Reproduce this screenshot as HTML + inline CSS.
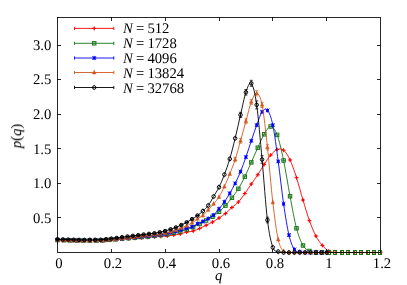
<!DOCTYPE html><html><head><meta charset="utf-8"><style>
html,body{margin:0;padding:0;background:#fff}
body{text-rendering:geometricPrecision;-webkit-font-smoothing:antialiased;width:407px;height:285px;position:relative;overflow:hidden;font-family:"Liberation Serif",serif;font-size:14.7px;color:#000}
.t{position:absolute;white-space:nowrap;line-height:14px;will-change:transform}
.yl{right:355.5px;text-align:right}
.xl{transform:translateX(-50%)}
i{font-style:italic}
</style></head><body>
<svg width="407" height="285" viewBox="0 0 407 285" style="position:absolute;left:0;top:0">
<rect width="407" height="285" fill="#fff"/>
<g>
<path d="M57.50 240.20C58.58 240.23 61.81 240.31 63.96 240.37C66.11 240.42 68.27 240.48 70.42 240.54C72.57 240.59 74.73 240.66 76.88 240.71C79.03 240.75 81.19 240.78 83.34 240.79C85.49 240.79 87.65 240.77 89.80 240.76C91.95 240.75 94.11 240.75 96.26 240.72C98.41 240.70 100.57 240.71 102.72 240.61C104.87 240.51 107.03 240.30 109.18 240.14C111.33 239.98 113.49 239.82 115.64 239.67C117.79 239.51 119.95 239.35 122.10 239.19C124.25 239.04 126.41 238.88 128.56 238.72C130.71 238.57 132.87 238.42 135.02 238.26C137.17 238.11 139.33 237.96 141.48 237.80C143.63 237.65 145.79 237.49 147.94 237.34C150.09 237.19 152.25 237.04 154.40 236.89C156.55 236.74 158.71 236.59 160.86 236.45C163.01 236.30 165.17 236.24 167.32 236.00C169.47 235.76 171.63 235.33 173.78 235.00C175.93 234.66 178.09 234.48 180.24 233.99C182.39 233.49 184.55 232.52 186.70 232.02C188.85 231.52 191.01 231.59 193.16 231.01C195.31 230.42 197.47 229.44 199.62 228.49C201.77 227.54 203.93 226.37 206.08 225.30C208.23 224.23 210.39 223.32 212.54 222.10C214.69 220.88 216.85 219.43 219.00 218.00C221.15 216.57 223.31 215.25 225.46 213.50C227.61 211.75 229.77 209.42 231.92 207.50C234.07 205.58 236.23 204.33 238.38 202.00C240.53 199.67 242.69 196.50 244.84 193.50C246.99 190.50 249.15 187.12 251.30 184.00C253.45 180.88 255.61 178.07 257.76 174.80C259.91 171.53 262.07 167.68 264.22 164.40C266.37 161.12 268.53 157.57 270.68 155.10C272.83 152.63 274.99 150.42 277.14 149.60C279.29 148.78 281.45 148.47 283.60 150.20C285.75 151.93 287.91 155.42 290.06 160.00C292.21 164.58 294.37 171.03 296.52 177.70C298.67 184.37 300.83 192.83 302.98 200.00C305.13 207.17 307.29 214.70 309.44 220.70C311.59 226.70 313.75 231.88 315.90 236.00C318.05 240.12 320.21 242.90 322.36 245.40C324.51 247.90 326.67 249.82 328.82 251.00C330.97 252.18 333.13 252.25 335.28 252.50C337.43 252.50 339.59 252.50 341.74 252.50C343.89 252.50 346.05 252.50 348.20 252.50C350.35 252.50 352.51 252.50 354.66 252.50C356.81 252.50 358.97 252.50 361.12 252.50C363.27 252.50 365.43 252.50 367.58 252.50C369.73 252.50 371.89 252.50 374.04 252.50C376.19 252.50 379.42 252.50 380.50 252.50" stroke="#ff0000" stroke-width="0.9" fill="none" stroke-linejoin="round"/>
<path d="M55.50 240.20H59.50M57.50 238.20V242.20" stroke="#ff0000" stroke-width="1.0" fill="none"/><rect x="56.60" y="239.30" width="1.8" height="1.8" fill="#ff0000" transform="rotate(45 57.50 240.20)"/>
<path d="M61.96 240.37H65.96M63.96 238.37V242.37" stroke="#ff0000" stroke-width="1.0" fill="none"/><rect x="63.06" y="239.47" width="1.8" height="1.8" fill="#ff0000" transform="rotate(45 63.96 240.37)"/>
<path d="M68.42 240.54H72.42M70.42 238.54V242.54" stroke="#ff0000" stroke-width="1.0" fill="none"/><rect x="69.52" y="239.64" width="1.8" height="1.8" fill="#ff0000" transform="rotate(45 70.42 240.54)"/>
<path d="M74.88 240.71H78.88M76.88 238.71V242.71" stroke="#ff0000" stroke-width="1.0" fill="none"/><rect x="75.98" y="239.81" width="1.8" height="1.8" fill="#ff0000" transform="rotate(45 76.88 240.71)"/>
<path d="M81.34 240.79H85.34M83.34 238.79V242.79" stroke="#ff0000" stroke-width="1.0" fill="none"/><rect x="82.44" y="239.89" width="1.8" height="1.8" fill="#ff0000" transform="rotate(45 83.34 240.79)"/>
<path d="M87.80 240.76H91.80M89.80 238.76V242.76" stroke="#ff0000" stroke-width="1.0" fill="none"/><rect x="88.90" y="239.86" width="1.8" height="1.8" fill="#ff0000" transform="rotate(45 89.80 240.76)"/>
<path d="M94.26 240.72H98.26M96.26 238.72V242.72" stroke="#ff0000" stroke-width="1.0" fill="none"/><rect x="95.36" y="239.82" width="1.8" height="1.8" fill="#ff0000" transform="rotate(45 96.26 240.72)"/>
<path d="M100.72 240.61H104.72M102.72 238.61V242.61" stroke="#ff0000" stroke-width="1.0" fill="none"/><rect x="101.82" y="239.71" width="1.8" height="1.8" fill="#ff0000" transform="rotate(45 102.72 240.61)"/>
<path d="M107.18 240.14H111.18M109.18 238.14V242.14" stroke="#ff0000" stroke-width="1.0" fill="none"/><rect x="108.28" y="239.24" width="1.8" height="1.8" fill="#ff0000" transform="rotate(45 109.18 240.14)"/>
<path d="M113.64 239.67H117.64M115.64 237.67V241.67" stroke="#ff0000" stroke-width="1.0" fill="none"/><rect x="114.74" y="238.77" width="1.8" height="1.8" fill="#ff0000" transform="rotate(45 115.64 239.67)"/>
<path d="M120.10 239.19H124.10M122.10 237.19V241.19" stroke="#ff0000" stroke-width="1.0" fill="none"/><rect x="121.20" y="238.29" width="1.8" height="1.8" fill="#ff0000" transform="rotate(45 122.10 239.19)"/>
<path d="M126.56 238.72H130.56M128.56 236.72V240.72" stroke="#ff0000" stroke-width="1.0" fill="none"/><rect x="127.66" y="237.82" width="1.8" height="1.8" fill="#ff0000" transform="rotate(45 128.56 238.72)"/>
<path d="M133.02 238.26H137.02M135.02 236.26V240.26" stroke="#ff0000" stroke-width="1.0" fill="none"/><rect x="134.12" y="237.36" width="1.8" height="1.8" fill="#ff0000" transform="rotate(45 135.02 238.26)"/>
<path d="M139.48 237.80H143.48M141.48 235.80V239.80" stroke="#ff0000" stroke-width="1.0" fill="none"/><rect x="140.58" y="236.90" width="1.8" height="1.8" fill="#ff0000" transform="rotate(45 141.48 237.80)"/>
<path d="M145.94 237.34H149.94M147.94 235.34V239.34" stroke="#ff0000" stroke-width="1.0" fill="none"/><rect x="147.04" y="236.44" width="1.8" height="1.8" fill="#ff0000" transform="rotate(45 147.94 237.34)"/>
<path d="M152.40 236.89H156.40M154.40 234.89V238.89" stroke="#ff0000" stroke-width="1.0" fill="none"/><rect x="153.50" y="235.99" width="1.8" height="1.8" fill="#ff0000" transform="rotate(45 154.40 236.89)"/>
<path d="M158.86 236.45H162.86M160.86 234.45V238.45" stroke="#ff0000" stroke-width="1.0" fill="none"/><rect x="159.96" y="235.55" width="1.8" height="1.8" fill="#ff0000" transform="rotate(45 160.86 236.45)"/>
<path d="M165.32 236.00H169.32M167.32 234.00V238.00" stroke="#ff0000" stroke-width="1.0" fill="none"/><rect x="166.42" y="235.10" width="1.8" height="1.8" fill="#ff0000" transform="rotate(45 167.32 236.00)"/>
<path d="M171.78 235.00H175.78M173.78 233.00V237.00" stroke="#ff0000" stroke-width="1.0" fill="none"/><rect x="172.88" y="234.10" width="1.8" height="1.8" fill="#ff0000" transform="rotate(45 173.78 235.00)"/>
<path d="M178.24 233.99H182.24M180.24 231.99V235.99" stroke="#ff0000" stroke-width="1.0" fill="none"/><rect x="179.34" y="233.09" width="1.8" height="1.8" fill="#ff0000" transform="rotate(45 180.24 233.99)"/>
<path d="M184.70 232.02H188.70M186.70 230.02V234.02" stroke="#ff0000" stroke-width="1.0" fill="none"/><rect x="185.80" y="231.12" width="1.8" height="1.8" fill="#ff0000" transform="rotate(45 186.70 232.02)"/>
<path d="M191.16 231.01H195.16M193.16 229.01V233.01" stroke="#ff0000" stroke-width="1.0" fill="none"/><rect x="192.26" y="230.11" width="1.8" height="1.8" fill="#ff0000" transform="rotate(45 193.16 231.01)"/>
<path d="M197.62 228.49H201.62M199.62 226.49V230.49" stroke="#ff0000" stroke-width="1.0" fill="none"/><rect x="198.72" y="227.59" width="1.8" height="1.8" fill="#ff0000" transform="rotate(45 199.62 228.49)"/>
<path d="M204.08 225.30H208.08M206.08 223.30V227.30" stroke="#ff0000" stroke-width="1.0" fill="none"/><rect x="205.18" y="224.40" width="1.8" height="1.8" fill="#ff0000" transform="rotate(45 206.08 225.30)"/>
<path d="M210.54 222.10H214.54M212.54 220.10V224.10" stroke="#ff0000" stroke-width="1.0" fill="none"/><rect x="211.64" y="221.20" width="1.8" height="1.8" fill="#ff0000" transform="rotate(45 212.54 222.10)"/>
<path d="M217.00 218.00H221.00M219.00 216.00V220.00" stroke="#ff0000" stroke-width="1.0" fill="none"/><rect x="218.10" y="217.10" width="1.8" height="1.8" fill="#ff0000" transform="rotate(45 219.00 218.00)"/>
<path d="M223.46 213.50H227.46M225.46 211.50V215.50" stroke="#ff0000" stroke-width="1.0" fill="none"/><rect x="224.56" y="212.60" width="1.8" height="1.8" fill="#ff0000" transform="rotate(45 225.46 213.50)"/>
<path d="M229.92 207.50H233.92M231.92 205.50V209.50" stroke="#ff0000" stroke-width="1.0" fill="none"/><rect x="231.02" y="206.60" width="1.8" height="1.8" fill="#ff0000" transform="rotate(45 231.92 207.50)"/>
<path d="M236.38 202.00H240.38M238.38 200.00V204.00" stroke="#ff0000" stroke-width="1.0" fill="none"/><rect x="237.48" y="201.10" width="1.8" height="1.8" fill="#ff0000" transform="rotate(45 238.38 202.00)"/>
<path d="M242.84 193.50H246.84M244.84 191.50V195.50" stroke="#ff0000" stroke-width="1.0" fill="none"/><rect x="243.94" y="192.60" width="1.8" height="1.8" fill="#ff0000" transform="rotate(45 244.84 193.50)"/>
<path d="M249.30 184.00H253.30M251.30 182.00V186.00" stroke="#ff0000" stroke-width="1.0" fill="none"/><rect x="250.40" y="183.10" width="1.8" height="1.8" fill="#ff0000" transform="rotate(45 251.30 184.00)"/>
<path d="M255.76 174.80H259.76M257.76 172.80V176.80" stroke="#ff0000" stroke-width="1.0" fill="none"/><rect x="256.86" y="173.90" width="1.8" height="1.8" fill="#ff0000" transform="rotate(45 257.76 174.80)"/>
<path d="M262.22 164.40H266.22M264.22 162.40V166.40" stroke="#ff0000" stroke-width="1.0" fill="none"/><rect x="263.32" y="163.50" width="1.8" height="1.8" fill="#ff0000" transform="rotate(45 264.22 164.40)"/>
<path d="M268.68 155.10H272.68M270.68 153.10V157.10" stroke="#ff0000" stroke-width="1.0" fill="none"/><rect x="269.78" y="154.20" width="1.8" height="1.8" fill="#ff0000" transform="rotate(45 270.68 155.10)"/>
<path d="M275.14 149.60H279.14M277.14 147.60V151.60" stroke="#ff0000" stroke-width="1.0" fill="none"/><rect x="276.24" y="148.70" width="1.8" height="1.8" fill="#ff0000" transform="rotate(45 277.14 149.60)"/>
<path d="M281.60 150.20H285.60M283.60 148.20V152.20" stroke="#ff0000" stroke-width="1.0" fill="none"/><rect x="282.70" y="149.30" width="1.8" height="1.8" fill="#ff0000" transform="rotate(45 283.60 150.20)"/>
<path d="M288.06 160.00H292.06M290.06 158.00V162.00" stroke="#ff0000" stroke-width="1.0" fill="none"/><rect x="289.16" y="159.10" width="1.8" height="1.8" fill="#ff0000" transform="rotate(45 290.06 160.00)"/>
<path d="M294.52 177.70H298.52M296.52 175.70V179.70" stroke="#ff0000" stroke-width="1.0" fill="none"/><rect x="295.62" y="176.80" width="1.8" height="1.8" fill="#ff0000" transform="rotate(45 296.52 177.70)"/>
<path d="M300.98 200.00H304.98M302.98 198.00V202.00" stroke="#ff0000" stroke-width="1.0" fill="none"/><rect x="302.08" y="199.10" width="1.8" height="1.8" fill="#ff0000" transform="rotate(45 302.98 200.00)"/>
<path d="M307.44 220.70H311.44M309.44 218.70V222.70" stroke="#ff0000" stroke-width="1.0" fill="none"/><rect x="308.54" y="219.80" width="1.8" height="1.8" fill="#ff0000" transform="rotate(45 309.44 220.70)"/>
<path d="M313.90 236.00H317.90M315.90 234.00V238.00" stroke="#ff0000" stroke-width="1.0" fill="none"/><rect x="315.00" y="235.10" width="1.8" height="1.8" fill="#ff0000" transform="rotate(45 315.90 236.00)"/>
<path d="M320.36 245.40H324.36M322.36 243.40V247.40" stroke="#ff0000" stroke-width="1.0" fill="none"/><rect x="321.46" y="244.50" width="1.8" height="1.8" fill="#ff0000" transform="rotate(45 322.36 245.40)"/>
<path d="M326.82 251.00H330.82M328.82 249.00V253.00" stroke="#ff0000" stroke-width="1.0" fill="none"/><rect x="327.92" y="250.10" width="1.8" height="1.8" fill="#ff0000" transform="rotate(45 328.82 251.00)"/>
<path d="M333.28 252.50H337.28M335.28 250.50V254.50" stroke="#ff0000" stroke-width="1.0" fill="none"/>
<path d="M339.74 252.50H343.74M341.74 250.50V254.50" stroke="#ff0000" stroke-width="1.0" fill="none"/>
<path d="M346.20 252.50H350.20M348.20 250.50V254.50" stroke="#ff0000" stroke-width="1.0" fill="none"/>
<path d="M352.66 252.50H356.66M354.66 250.50V254.50" stroke="#ff0000" stroke-width="1.0" fill="none"/>
<path d="M359.12 252.50H363.12M361.12 250.50V254.50" stroke="#ff0000" stroke-width="1.0" fill="none"/>
<path d="M365.58 252.50H369.58M367.58 250.50V254.50" stroke="#ff0000" stroke-width="1.0" fill="none"/>
<path d="M372.04 252.50H376.04M374.04 250.50V254.50" stroke="#ff0000" stroke-width="1.0" fill="none"/>
<path d="M378.50 252.50H382.50M380.50 250.50V254.50" stroke="#ff0000" stroke-width="1.0" fill="none"/>
<path d="M57.50 240.00C58.58 240.03 61.81 240.11 63.96 240.17C66.11 240.22 68.27 240.28 70.42 240.34C72.57 240.39 74.73 240.46 76.88 240.51C79.03 240.55 81.19 240.58 83.34 240.59C85.49 240.59 87.65 240.57 89.80 240.56C91.95 240.55 94.11 240.55 96.26 240.52C98.41 240.50 100.57 240.51 102.72 240.40C104.87 240.28 107.03 240.03 109.18 239.85C111.33 239.67 113.49 239.49 115.64 239.30C117.79 239.12 119.95 238.94 122.10 238.76C124.25 238.57 126.41 238.39 128.56 238.21C130.71 238.03 132.87 237.84 135.02 237.66C137.17 237.47 139.33 237.29 141.48 237.10C143.63 236.92 145.79 236.76 147.94 236.55C150.09 236.34 152.25 236.07 154.40 235.83C156.55 235.59 158.71 235.37 160.86 235.09C163.01 234.82 165.17 234.54 167.32 234.16C169.47 233.78 171.63 233.27 173.78 232.82C175.93 232.38 178.09 232.04 180.24 231.49C182.39 230.93 184.55 230.21 186.70 229.50C188.85 228.79 191.01 228.12 193.16 227.20C195.31 226.28 197.47 225.12 199.62 224.00C201.77 222.88 203.93 221.72 206.08 220.50C208.23 219.28 210.39 218.15 212.54 216.70C214.69 215.25 216.85 213.65 219.00 211.80C221.15 209.95 223.31 207.93 225.46 205.60C227.61 203.27 229.77 200.60 231.92 197.80C234.07 195.00 236.23 192.33 238.38 188.80C240.53 185.27 242.69 181.00 244.84 176.60C246.99 172.20 249.15 167.22 251.30 162.40C253.45 157.58 255.61 152.38 257.76 147.70C259.91 143.02 262.07 137.83 264.22 134.30C266.37 130.77 268.53 126.40 270.68 126.50C272.83 126.60 274.99 129.23 277.14 134.90C279.29 140.57 281.45 150.27 283.60 160.50C285.75 170.73 287.91 185.00 290.06 196.30C292.21 207.60 294.37 220.10 296.52 228.30C298.67 236.50 300.83 241.72 302.98 245.50C305.13 249.28 307.29 249.83 309.44 251.00C311.59 252.17 313.75 252.25 315.90 252.50C318.05 252.50 320.21 252.50 322.36 252.50C324.51 252.50 326.67 252.50 328.82 252.50C330.97 252.50 333.13 252.50 335.28 252.50C337.43 252.50 339.59 252.50 341.74 252.50C343.89 252.50 346.05 252.50 348.20 252.50C350.35 252.50 352.51 252.50 354.66 252.50C356.81 252.50 358.97 252.50 361.12 252.50C363.27 252.50 365.43 252.50 367.58 252.50C369.73 252.50 371.89 252.50 374.04 252.50C376.19 252.50 379.42 252.50 380.50 252.50" stroke="#157515" stroke-width="0.9" fill="none" stroke-linejoin="round"/>
<rect x="55.75" y="238.25" width="3.5" height="3.5" stroke="#157515" stroke-width="0.95" fill="#157515" fill-opacity="0.25"/><path d="M55.75 240.00H59.25" stroke="#157515" stroke-width="0.8" stroke-opacity="0.8"/>
<rect x="62.21" y="238.42" width="3.5" height="3.5" stroke="#157515" stroke-width="0.95" fill="#157515" fill-opacity="0.25"/><path d="M62.21 240.17H65.71" stroke="#157515" stroke-width="0.8" stroke-opacity="0.8"/>
<rect x="68.67" y="238.59" width="3.5" height="3.5" stroke="#157515" stroke-width="0.95" fill="#157515" fill-opacity="0.25"/><path d="M68.67 240.34H72.17" stroke="#157515" stroke-width="0.8" stroke-opacity="0.8"/>
<rect x="75.13" y="238.76" width="3.5" height="3.5" stroke="#157515" stroke-width="0.95" fill="#157515" fill-opacity="0.25"/><path d="M75.13 240.51H78.63" stroke="#157515" stroke-width="0.8" stroke-opacity="0.8"/>
<rect x="81.59" y="238.84" width="3.5" height="3.5" stroke="#157515" stroke-width="0.95" fill="#157515" fill-opacity="0.25"/><path d="M81.59 240.59H85.09" stroke="#157515" stroke-width="0.8" stroke-opacity="0.8"/>
<rect x="88.05" y="238.81" width="3.5" height="3.5" stroke="#157515" stroke-width="0.95" fill="#157515" fill-opacity="0.25"/><path d="M88.05 240.56H91.55" stroke="#157515" stroke-width="0.8" stroke-opacity="0.8"/>
<rect x="94.51" y="238.77" width="3.5" height="3.5" stroke="#157515" stroke-width="0.95" fill="#157515" fill-opacity="0.25"/><path d="M94.51 240.52H98.01" stroke="#157515" stroke-width="0.8" stroke-opacity="0.8"/>
<rect x="100.97" y="238.65" width="3.5" height="3.5" stroke="#157515" stroke-width="0.95" fill="#157515" fill-opacity="0.25"/><path d="M100.97 240.40H104.47" stroke="#157515" stroke-width="0.8" stroke-opacity="0.8"/>
<rect x="107.43" y="238.10" width="3.5" height="3.5" stroke="#157515" stroke-width="0.95" fill="#157515" fill-opacity="0.25"/><path d="M107.43 239.85H110.93" stroke="#157515" stroke-width="0.8" stroke-opacity="0.8"/>
<rect x="113.89" y="237.55" width="3.5" height="3.5" stroke="#157515" stroke-width="0.95" fill="#157515" fill-opacity="0.25"/><path d="M113.89 239.30H117.39" stroke="#157515" stroke-width="0.8" stroke-opacity="0.8"/>
<rect x="120.35" y="237.01" width="3.5" height="3.5" stroke="#157515" stroke-width="0.95" fill="#157515" fill-opacity="0.25"/><path d="M120.35 238.76H123.85" stroke="#157515" stroke-width="0.8" stroke-opacity="0.8"/>
<rect x="126.81" y="236.46" width="3.5" height="3.5" stroke="#157515" stroke-width="0.95" fill="#157515" fill-opacity="0.25"/><path d="M126.81 238.21H130.31" stroke="#157515" stroke-width="0.8" stroke-opacity="0.8"/>
<rect x="133.27" y="235.91" width="3.5" height="3.5" stroke="#157515" stroke-width="0.95" fill="#157515" fill-opacity="0.25"/><path d="M133.27 237.66H136.77" stroke="#157515" stroke-width="0.8" stroke-opacity="0.8"/>
<rect x="139.73" y="235.35" width="3.5" height="3.5" stroke="#157515" stroke-width="0.95" fill="#157515" fill-opacity="0.25"/><path d="M139.73 237.10H143.23" stroke="#157515" stroke-width="0.8" stroke-opacity="0.8"/>
<rect x="146.19" y="234.80" width="3.5" height="3.5" stroke="#157515" stroke-width="0.95" fill="#157515" fill-opacity="0.25"/><path d="M146.19 236.55H149.69" stroke="#157515" stroke-width="0.8" stroke-opacity="0.8"/>
<rect x="152.65" y="234.08" width="3.5" height="3.5" stroke="#157515" stroke-width="0.95" fill="#157515" fill-opacity="0.25"/><path d="M152.65 235.83H156.15" stroke="#157515" stroke-width="0.8" stroke-opacity="0.8"/>
<rect x="159.11" y="233.34" width="3.5" height="3.5" stroke="#157515" stroke-width="0.95" fill="#157515" fill-opacity="0.25"/><path d="M159.11 235.09H162.61" stroke="#157515" stroke-width="0.8" stroke-opacity="0.8"/>
<rect x="165.57" y="232.41" width="3.5" height="3.5" stroke="#157515" stroke-width="0.95" fill="#157515" fill-opacity="0.25"/><path d="M165.57 234.16H169.07" stroke="#157515" stroke-width="0.8" stroke-opacity="0.8"/>
<rect x="172.03" y="231.07" width="3.5" height="3.5" stroke="#157515" stroke-width="0.95" fill="#157515" fill-opacity="0.25"/><path d="M172.03 232.82H175.53" stroke="#157515" stroke-width="0.8" stroke-opacity="0.8"/>
<rect x="178.49" y="229.74" width="3.5" height="3.5" stroke="#157515" stroke-width="0.95" fill="#157515" fill-opacity="0.25"/><path d="M178.49 231.49H181.99" stroke="#157515" stroke-width="0.8" stroke-opacity="0.8"/>
<rect x="184.95" y="227.75" width="3.5" height="3.5" stroke="#157515" stroke-width="0.95" fill="#157515" fill-opacity="0.25"/><path d="M184.95 229.50H188.45" stroke="#157515" stroke-width="0.8" stroke-opacity="0.8"/>
<rect x="191.41" y="225.45" width="3.5" height="3.5" stroke="#157515" stroke-width="0.95" fill="#157515" fill-opacity="0.25"/><path d="M191.41 227.20H194.91" stroke="#157515" stroke-width="0.8" stroke-opacity="0.8"/>
<rect x="197.87" y="222.25" width="3.5" height="3.5" stroke="#157515" stroke-width="0.95" fill="#157515" fill-opacity="0.25"/><path d="M197.87 224.00H201.37" stroke="#157515" stroke-width="0.8" stroke-opacity="0.8"/>
<rect x="204.33" y="218.75" width="3.5" height="3.5" stroke="#157515" stroke-width="0.95" fill="#157515" fill-opacity="0.25"/><path d="M204.33 220.50H207.83" stroke="#157515" stroke-width="0.8" stroke-opacity="0.8"/>
<rect x="210.79" y="214.95" width="3.5" height="3.5" stroke="#157515" stroke-width="0.95" fill="#157515" fill-opacity="0.25"/><path d="M210.79 216.70H214.29" stroke="#157515" stroke-width="0.8" stroke-opacity="0.8"/>
<rect x="217.25" y="210.05" width="3.5" height="3.5" stroke="#157515" stroke-width="0.95" fill="#157515" fill-opacity="0.25"/><path d="M217.25 211.80H220.75" stroke="#157515" stroke-width="0.8" stroke-opacity="0.8"/>
<rect x="223.71" y="203.85" width="3.5" height="3.5" stroke="#157515" stroke-width="0.95" fill="#157515" fill-opacity="0.25"/><path d="M223.71 205.60H227.21" stroke="#157515" stroke-width="0.8" stroke-opacity="0.8"/>
<rect x="230.17" y="196.05" width="3.5" height="3.5" stroke="#157515" stroke-width="0.95" fill="#157515" fill-opacity="0.25"/><path d="M230.17 197.80H233.67" stroke="#157515" stroke-width="0.8" stroke-opacity="0.8"/>
<rect x="236.63" y="187.05" width="3.5" height="3.5" stroke="#157515" stroke-width="0.95" fill="#157515" fill-opacity="0.25"/><path d="M236.63 188.80H240.13" stroke="#157515" stroke-width="0.8" stroke-opacity="0.8"/>
<rect x="243.09" y="174.85" width="3.5" height="3.5" stroke="#157515" stroke-width="0.95" fill="#157515" fill-opacity="0.25"/><path d="M243.09 176.60H246.59" stroke="#157515" stroke-width="0.8" stroke-opacity="0.8"/>
<rect x="249.55" y="160.65" width="3.5" height="3.5" stroke="#157515" stroke-width="0.95" fill="#157515" fill-opacity="0.25"/><path d="M249.55 162.40H253.05" stroke="#157515" stroke-width="0.8" stroke-opacity="0.8"/>
<rect x="256.01" y="145.95" width="3.5" height="3.5" stroke="#157515" stroke-width="0.95" fill="#157515" fill-opacity="0.25"/><path d="M256.01 147.70H259.51" stroke="#157515" stroke-width="0.8" stroke-opacity="0.8"/>
<rect x="262.47" y="132.55" width="3.5" height="3.5" stroke="#157515" stroke-width="0.95" fill="#157515" fill-opacity="0.25"/><path d="M262.47 134.30H265.97" stroke="#157515" stroke-width="0.8" stroke-opacity="0.8"/>
<rect x="268.93" y="124.75" width="3.5" height="3.5" stroke="#157515" stroke-width="0.95" fill="#157515" fill-opacity="0.25"/><path d="M268.93 126.50H272.43" stroke="#157515" stroke-width="0.8" stroke-opacity="0.8"/>
<rect x="275.39" y="133.15" width="3.5" height="3.5" stroke="#157515" stroke-width="0.95" fill="#157515" fill-opacity="0.25"/><path d="M275.39 134.90H278.89" stroke="#157515" stroke-width="0.8" stroke-opacity="0.8"/>
<rect x="281.85" y="158.75" width="3.5" height="3.5" stroke="#157515" stroke-width="0.95" fill="#157515" fill-opacity="0.25"/><path d="M281.85 160.50H285.35" stroke="#157515" stroke-width="0.8" stroke-opacity="0.8"/>
<rect x="288.31" y="194.55" width="3.5" height="3.5" stroke="#157515" stroke-width="0.95" fill="#157515" fill-opacity="0.25"/><path d="M288.31 196.30H291.81" stroke="#157515" stroke-width="0.8" stroke-opacity="0.8"/>
<rect x="294.77" y="226.55" width="3.5" height="3.5" stroke="#157515" stroke-width="0.95" fill="#157515" fill-opacity="0.25"/><path d="M294.77 228.30H298.27" stroke="#157515" stroke-width="0.8" stroke-opacity="0.8"/>
<rect x="301.23" y="243.75" width="3.5" height="3.5" stroke="#157515" stroke-width="0.95" fill="#157515" fill-opacity="0.25"/><path d="M301.23 245.50H304.73" stroke="#157515" stroke-width="0.8" stroke-opacity="0.8"/>
<rect x="307.69" y="249.25" width="3.5" height="3.5" stroke="#157515" stroke-width="0.95" fill="#157515" fill-opacity="0.25"/><path d="M307.69 251.00H311.19" stroke="#157515" stroke-width="0.8" stroke-opacity="0.8"/>
<rect x="314.50" y="250.50" width="3" height="4" stroke="#157515" stroke-width="1" fill="none"/>
<rect x="320.50" y="250.50" width="3" height="4" stroke="#157515" stroke-width="1" fill="none"/>
<rect x="327.50" y="250.50" width="3" height="4" stroke="#157515" stroke-width="1" fill="none"/>
<rect x="333.50" y="250.50" width="3" height="4" stroke="#157515" stroke-width="1" fill="none"/>
<rect x="340.50" y="250.50" width="3" height="4" stroke="#157515" stroke-width="1" fill="none"/>
<rect x="346.50" y="250.50" width="3" height="4" stroke="#157515" stroke-width="1" fill="none"/>
<rect x="353.50" y="250.50" width="3" height="4" stroke="#157515" stroke-width="1" fill="none"/>
<rect x="359.50" y="250.50" width="3" height="4" stroke="#157515" stroke-width="1" fill="none"/>
<rect x="366.50" y="250.50" width="3" height="4" stroke="#157515" stroke-width="1" fill="none"/>
<rect x="372.50" y="250.50" width="3" height="4" stroke="#157515" stroke-width="1" fill="none"/>
<rect x="378.50" y="250.50" width="3" height="4" stroke="#157515" stroke-width="1" fill="none"/>
<path d="M57.50 239.90C58.40 239.92 61.09 239.99 62.88 240.04C64.68 240.09 66.47 240.13 68.27 240.18C70.06 240.23 71.86 240.27 73.65 240.32C75.44 240.37 77.24 240.44 79.03 240.46C80.83 240.49 82.62 240.48 84.42 240.48C86.21 240.48 88.01 240.46 89.80 240.46C91.59 240.45 93.39 240.44 95.18 240.43C96.98 240.42 98.77 240.48 100.57 240.40C102.36 240.33 104.16 240.14 105.95 239.99C107.74 239.84 109.54 239.66 111.33 239.49C113.13 239.33 114.92 239.16 116.72 239.00C118.51 238.83 120.31 238.66 122.10 238.50C123.89 238.33 125.69 238.17 127.48 238.00C129.28 237.83 131.07 237.66 132.87 237.49C134.66 237.32 136.46 237.15 138.25 236.98C140.04 236.81 141.84 236.64 143.63 236.46C145.43 236.29 147.22 236.13 149.02 235.94C150.81 235.74 152.61 235.51 154.40 235.29C156.19 235.08 157.99 234.86 159.78 234.65C161.58 234.43 163.37 234.33 165.17 234.00C166.96 233.68 168.76 233.13 170.55 232.70C172.34 232.26 174.14 231.88 175.93 231.39C177.73 230.90 179.52 230.31 181.32 229.77C183.11 229.22 184.91 228.62 186.70 228.12C188.49 227.63 190.29 227.54 192.08 226.80C193.88 226.07 195.67 224.61 197.47 223.73C199.26 222.85 201.06 222.38 202.85 221.52C204.64 220.66 206.44 219.63 208.23 218.55C210.03 217.46 211.82 216.62 213.62 215.00C215.41 213.38 217.21 210.98 219.00 208.80C220.79 206.62 222.59 204.48 224.38 201.90C226.18 199.32 227.97 196.38 229.77 193.30C231.56 190.22 233.36 187.00 235.15 183.40C236.94 179.80 238.74 176.08 240.53 171.70C242.33 167.32 244.12 162.25 245.92 157.10C247.71 151.95 249.51 146.13 251.30 140.80C253.09 135.47 254.89 129.92 256.68 125.10C258.48 120.28 260.27 114.35 262.07 111.90C263.86 109.45 265.66 108.20 267.45 110.40C269.24 112.60 271.04 116.60 272.83 125.10C274.63 133.60 276.42 148.27 278.22 161.40C280.01 174.53 281.81 191.62 283.60 203.90C285.39 216.18 287.19 227.52 288.98 235.10C290.78 242.68 292.57 246.63 294.37 249.40C296.16 252.17 297.96 251.18 299.75 251.70C301.54 252.22 303.34 252.37 305.13 252.50C306.93 252.50 308.72 252.50 310.52 252.50C312.31 252.50 314.11 252.50 315.90 252.50C317.69 252.50 319.49 252.50 321.28 252.50C323.08 252.50 325.77 252.50 326.67 252.50" stroke="#0000ff" stroke-width="0.9" fill="none" stroke-linejoin="round"/>
<rect x="56.10" y="238.50" width="2.8" height="2.8" fill="#0000ff"/><path d="M55.60 238.00L59.40 241.80M55.60 241.80L59.40 238.00M57.50 237.70V242.10" stroke="#0000ff" stroke-width="0.8" fill="none"/>
<rect x="61.48" y="238.64" width="2.8" height="2.8" fill="#0000ff"/><path d="M60.98 238.14L64.78 241.94M60.98 241.94L64.78 238.14M62.88 237.84V242.24" stroke="#0000ff" stroke-width="0.8" fill="none"/>
<rect x="66.87" y="238.78" width="2.8" height="2.8" fill="#0000ff"/><path d="M66.37 238.28L70.17 242.08M66.37 242.08L70.17 238.28M68.27 237.98V242.38" stroke="#0000ff" stroke-width="0.8" fill="none"/>
<rect x="72.25" y="238.92" width="2.8" height="2.8" fill="#0000ff"/><path d="M71.75 238.42L75.55 242.22M71.75 242.22L75.55 238.42M73.65 238.12V242.52" stroke="#0000ff" stroke-width="0.8" fill="none"/>
<rect x="77.63" y="239.06" width="2.8" height="2.8" fill="#0000ff"/><path d="M77.13 238.56L80.93 242.36M77.13 242.36L80.93 238.56M79.03 238.26V242.66" stroke="#0000ff" stroke-width="0.8" fill="none"/>
<rect x="83.02" y="239.08" width="2.8" height="2.8" fill="#0000ff"/><path d="M82.52 238.58L86.32 242.38M82.52 242.38L86.32 238.58M84.42 238.28V242.68" stroke="#0000ff" stroke-width="0.8" fill="none"/>
<rect x="88.40" y="239.06" width="2.8" height="2.8" fill="#0000ff"/><path d="M87.90 238.56L91.70 242.36M87.90 242.36L91.70 238.56M89.80 238.26V242.66" stroke="#0000ff" stroke-width="0.8" fill="none"/>
<rect x="93.78" y="239.03" width="2.8" height="2.8" fill="#0000ff"/><path d="M93.28 238.53L97.08 242.33M93.28 242.33L97.08 238.53M95.18 238.23V242.63" stroke="#0000ff" stroke-width="0.8" fill="none"/>
<rect x="99.17" y="239.00" width="2.8" height="2.8" fill="#0000ff"/><path d="M98.67 238.50L102.47 242.30M98.67 242.30L102.47 238.50M100.57 238.20V242.60" stroke="#0000ff" stroke-width="0.8" fill="none"/>
<rect x="104.55" y="238.59" width="2.8" height="2.8" fill="#0000ff"/><path d="M104.05 238.09L107.85 241.89M104.05 241.89L107.85 238.09M105.95 237.79V242.19" stroke="#0000ff" stroke-width="0.8" fill="none"/>
<rect x="109.93" y="238.09" width="2.8" height="2.8" fill="#0000ff"/><path d="M109.43 237.59L113.23 241.39M109.43 241.39L113.23 237.59M111.33 237.29V241.69" stroke="#0000ff" stroke-width="0.8" fill="none"/>
<rect x="115.32" y="237.60" width="2.8" height="2.8" fill="#0000ff"/><path d="M114.82 237.10L118.62 240.90M114.82 240.90L118.62 237.10M116.72 236.80V241.20" stroke="#0000ff" stroke-width="0.8" fill="none"/>
<rect x="120.70" y="237.10" width="2.8" height="2.8" fill="#0000ff"/><path d="M120.20 236.60L124.00 240.40M120.20 240.40L124.00 236.60M122.10 236.30V240.70" stroke="#0000ff" stroke-width="0.8" fill="none"/>
<rect x="126.08" y="236.60" width="2.8" height="2.8" fill="#0000ff"/><path d="M125.58 236.10L129.38 239.90M125.58 239.90L129.38 236.10M127.48 235.80V240.20" stroke="#0000ff" stroke-width="0.8" fill="none"/>
<rect x="131.47" y="236.09" width="2.8" height="2.8" fill="#0000ff"/><path d="M130.97 235.59L134.77 239.39M130.97 239.39L134.77 235.59M132.87 235.29V239.69" stroke="#0000ff" stroke-width="0.8" fill="none"/>
<rect x="136.85" y="235.58" width="2.8" height="2.8" fill="#0000ff"/><path d="M136.35 235.08L140.15 238.88M136.35 238.88L140.15 235.08M138.25 234.78V239.18" stroke="#0000ff" stroke-width="0.8" fill="none"/>
<rect x="142.23" y="235.06" width="2.8" height="2.8" fill="#0000ff"/><path d="M141.73 234.56L145.53 238.36M141.73 238.36L145.53 234.56M143.63 234.26V238.66" stroke="#0000ff" stroke-width="0.8" fill="none"/>
<rect x="147.62" y="234.54" width="2.8" height="2.8" fill="#0000ff"/><path d="M147.12 234.04L150.92 237.84M147.12 237.84L150.92 234.04M149.02 233.74V238.14" stroke="#0000ff" stroke-width="0.8" fill="none"/>
<rect x="153.00" y="233.89" width="2.8" height="2.8" fill="#0000ff"/><path d="M152.50 233.39L156.30 237.19M152.50 237.19L156.30 233.39M154.40 233.09V237.49" stroke="#0000ff" stroke-width="0.8" fill="none"/>
<rect x="158.38" y="233.25" width="2.8" height="2.8" fill="#0000ff"/><path d="M157.88 232.75L161.68 236.55M157.88 236.55L161.68 232.75M159.78 232.45V236.85" stroke="#0000ff" stroke-width="0.8" fill="none"/>
<rect x="163.77" y="232.60" width="2.8" height="2.8" fill="#0000ff"/><path d="M163.27 232.10L167.07 235.90M163.27 235.90L167.07 232.10M165.17 231.80V236.20" stroke="#0000ff" stroke-width="0.8" fill="none"/>
<rect x="169.15" y="231.30" width="2.8" height="2.8" fill="#0000ff"/><path d="M168.65 230.80L172.45 234.60M168.65 234.60L172.45 230.80M170.55 230.50V234.90" stroke="#0000ff" stroke-width="0.8" fill="none"/>
<rect x="174.53" y="229.99" width="2.8" height="2.8" fill="#0000ff"/><path d="M174.03 229.49L177.83 233.29M174.03 233.29L177.83 229.49M175.93 229.19V233.59" stroke="#0000ff" stroke-width="0.8" fill="none"/>
<rect x="179.92" y="228.37" width="2.8" height="2.8" fill="#0000ff"/><path d="M179.42 227.87L183.22 231.67M179.42 231.67L183.22 227.87M181.32 227.57V231.97" stroke="#0000ff" stroke-width="0.8" fill="none"/>
<rect x="185.30" y="226.72" width="2.8" height="2.8" fill="#0000ff"/><path d="M184.80 226.22L188.60 230.02M184.80 230.02L188.60 226.22M186.70 225.92V230.32" stroke="#0000ff" stroke-width="0.8" fill="none"/>
<rect x="190.68" y="225.40" width="2.8" height="2.8" fill="#0000ff"/><path d="M190.18 224.90L193.98 228.70M190.18 228.70L193.98 224.90M192.08 224.60V229.00" stroke="#0000ff" stroke-width="0.8" fill="none"/>
<rect x="196.07" y="222.33" width="2.8" height="2.8" fill="#0000ff"/><path d="M195.57 221.83L199.37 225.63M195.57 225.63L199.37 221.83M197.47 221.53V225.93" stroke="#0000ff" stroke-width="0.8" fill="none"/>
<rect x="201.45" y="220.12" width="2.8" height="2.8" fill="#0000ff"/><path d="M200.95 219.62L204.75 223.42M200.95 223.42L204.75 219.62M202.85 219.32V223.72" stroke="#0000ff" stroke-width="0.8" fill="none"/>
<rect x="206.83" y="217.15" width="2.8" height="2.8" fill="#0000ff"/><path d="M206.33 216.65L210.13 220.45M206.33 220.45L210.13 216.65M208.23 216.35V220.75" stroke="#0000ff" stroke-width="0.8" fill="none"/>
<rect x="212.22" y="213.60" width="2.8" height="2.8" fill="#0000ff"/><path d="M211.72 213.10L215.52 216.90M211.72 216.90L215.52 213.10M213.62 212.80V217.20" stroke="#0000ff" stroke-width="0.8" fill="none"/>
<rect x="217.60" y="207.40" width="2.8" height="2.8" fill="#0000ff"/><path d="M217.10 206.90L220.90 210.70M217.10 210.70L220.90 206.90M219.00 206.60V211.00" stroke="#0000ff" stroke-width="0.8" fill="none"/>
<rect x="222.98" y="200.50" width="2.8" height="2.8" fill="#0000ff"/><path d="M222.48 200.00L226.28 203.80M222.48 203.80L226.28 200.00M224.38 199.70V204.10" stroke="#0000ff" stroke-width="0.8" fill="none"/>
<rect x="228.37" y="191.90" width="2.8" height="2.8" fill="#0000ff"/><path d="M227.87 191.40L231.67 195.20M227.87 195.20L231.67 191.40M229.77 191.10V195.50" stroke="#0000ff" stroke-width="0.8" fill="none"/>
<rect x="233.75" y="182.00" width="2.8" height="2.8" fill="#0000ff"/><path d="M233.25 181.50L237.05 185.30M233.25 185.30L237.05 181.50M235.15 181.20V185.60" stroke="#0000ff" stroke-width="0.8" fill="none"/>
<rect x="239.13" y="170.30" width="2.8" height="2.8" fill="#0000ff"/><path d="M238.63 169.80L242.43 173.60M238.63 173.60L242.43 169.80M240.53 169.50V173.90" stroke="#0000ff" stroke-width="0.8" fill="none"/>
<rect x="244.52" y="155.70" width="2.8" height="2.8" fill="#0000ff"/><path d="M244.02 155.20L247.82 159.00M244.02 159.00L247.82 155.20M245.92 154.90V159.30" stroke="#0000ff" stroke-width="0.8" fill="none"/>
<rect x="249.90" y="139.40" width="2.8" height="2.8" fill="#0000ff"/><path d="M249.40 138.90L253.20 142.70M249.40 142.70L253.20 138.90M251.30 138.60V143.00" stroke="#0000ff" stroke-width="0.8" fill="none"/>
<rect x="255.28" y="123.70" width="2.8" height="2.8" fill="#0000ff"/><path d="M254.78 123.20L258.58 127.00M254.78 127.00L258.58 123.20M256.68 122.90V127.30" stroke="#0000ff" stroke-width="0.8" fill="none"/>
<rect x="260.67" y="110.50" width="2.8" height="2.8" fill="#0000ff"/><path d="M260.17 110.00L263.97 113.80M260.17 113.80L263.97 110.00M262.07 109.70V114.10" stroke="#0000ff" stroke-width="0.8" fill="none"/>
<rect x="266.05" y="109.00" width="2.8" height="2.8" fill="#0000ff"/><path d="M265.55 108.50L269.35 112.30M265.55 112.30L269.35 108.50M267.45 108.20V112.60" stroke="#0000ff" stroke-width="0.8" fill="none"/>
<rect x="271.43" y="123.70" width="2.8" height="2.8" fill="#0000ff"/><path d="M270.93 123.20L274.73 127.00M270.93 127.00L274.73 123.20M272.83 122.90V127.30" stroke="#0000ff" stroke-width="0.8" fill="none"/>
<rect x="276.82" y="160.00" width="2.8" height="2.8" fill="#0000ff"/><path d="M276.32 159.50L280.12 163.30M276.32 163.30L280.12 159.50M278.22 159.20V163.60" stroke="#0000ff" stroke-width="0.8" fill="none"/>
<rect x="282.20" y="202.50" width="2.8" height="2.8" fill="#0000ff"/><path d="M281.70 202.00L285.50 205.80M281.70 205.80L285.50 202.00M283.60 201.70V206.10" stroke="#0000ff" stroke-width="0.8" fill="none"/>
<rect x="287.58" y="233.70" width="2.8" height="2.8" fill="#0000ff"/><path d="M287.08 233.20L290.88 237.00M287.08 237.00L290.88 233.20M288.98 232.90V237.30" stroke="#0000ff" stroke-width="0.8" fill="none"/>
<rect x="292.97" y="248.00" width="2.8" height="2.8" fill="#0000ff"/><path d="M292.47 247.50L296.27 251.30M292.47 251.30L296.27 247.50M294.37 247.20V251.60" stroke="#0000ff" stroke-width="0.8" fill="none"/>
<rect x="298.35" y="250.30" width="2.8" height="2.8" fill="#0000ff"/><path d="M297.85 249.80L301.65 253.60M297.85 253.60L301.65 249.80M299.75 249.50V253.90" stroke="#0000ff" stroke-width="0.8" fill="none"/>
<rect x="303.73" y="251.10" width="2.8" height="2.8" fill="#0000ff"/><path d="M303.23 250.60L307.03 254.40M303.23 254.40L307.03 250.60M305.13 250.30V254.70" stroke="#0000ff" stroke-width="0.8" fill="none"/>
<rect x="309.12" y="251.10" width="2.8" height="2.8" fill="#0000ff"/><path d="M308.62 250.60L312.42 254.40M308.62 254.40L312.42 250.60M310.52 250.30V254.70" stroke="#0000ff" stroke-width="0.8" fill="none"/>
<rect x="314.50" y="251.10" width="2.8" height="2.8" fill="#0000ff"/><path d="M314.00 250.60L317.80 254.40M314.00 254.40L317.80 250.60M315.90 250.30V254.70" stroke="#0000ff" stroke-width="0.8" fill="none"/>
<rect x="319.88" y="251.10" width="2.8" height="2.8" fill="#0000ff"/><path d="M319.38 250.60L323.18 254.40M319.38 254.40L323.18 250.60M321.28 250.30V254.70" stroke="#0000ff" stroke-width="0.8" fill="none"/>
<rect x="325.27" y="251.10" width="2.8" height="2.8" fill="#0000ff"/><path d="M324.77 250.60L328.57 254.40M324.77 254.40L328.57 250.60M326.67 250.30V254.70" stroke="#0000ff" stroke-width="0.8" fill="none"/>
<path d="M57.50 240.20C58.40 240.22 61.09 240.29 62.88 240.34C64.68 240.39 66.47 240.43 68.27 240.48C70.06 240.53 71.86 240.57 73.65 240.62C75.44 240.67 77.24 240.74 79.03 240.76C80.83 240.79 82.62 240.77 84.42 240.76C86.21 240.75 88.01 240.73 89.80 240.71C91.59 240.69 93.39 240.68 95.18 240.66C96.98 240.64 98.77 240.70 100.57 240.61C102.36 240.52 104.16 240.31 105.95 240.14C107.74 239.97 109.54 239.77 111.33 239.58C113.13 239.39 114.92 239.21 116.72 239.02C118.51 238.83 120.31 238.65 122.10 238.46C123.89 238.27 125.69 238.11 127.48 237.90C129.28 237.70 131.07 237.46 132.87 237.24C134.66 237.01 136.46 236.79 138.25 236.57C140.04 236.35 141.84 236.12 143.63 235.90C145.43 235.68 147.22 235.46 149.02 235.24C150.81 235.01 152.61 234.78 154.40 234.56C156.19 234.33 157.99 234.11 159.78 233.88C161.58 233.66 163.37 233.57 165.17 233.20C166.96 232.83 168.76 232.17 170.55 231.66C172.34 231.14 174.14 230.72 175.93 230.11C177.73 229.49 179.52 228.68 181.32 227.96C183.11 227.23 184.91 226.62 186.70 225.76C188.49 224.91 190.29 223.95 192.08 222.81C193.88 221.67 195.67 220.14 197.47 218.92C199.26 217.71 201.06 217.02 202.85 215.50C204.64 213.98 206.44 211.73 208.23 209.80C210.03 207.87 211.82 206.03 213.62 203.90C215.41 201.77 217.21 199.87 219.00 197.00C220.79 194.13 222.59 190.53 224.38 186.70C226.18 182.87 227.97 178.53 229.77 174.00C231.56 169.47 233.36 165.03 235.15 159.50C236.94 153.97 238.74 147.18 240.53 140.80C242.33 134.42 244.12 127.68 245.92 121.20C247.71 114.72 249.51 106.55 251.30 101.90C253.09 97.25 254.89 92.80 256.68 93.30C258.48 93.80 260.27 95.90 262.07 104.90C263.86 113.90 265.66 131.05 267.45 147.30C269.24 163.55 271.04 187.02 272.83 202.40C274.63 217.78 276.42 231.45 278.22 239.60C280.01 247.75 281.81 249.15 283.60 251.30C285.39 252.50 287.19 252.30 288.98 252.50C290.78 252.50 292.57 252.50 294.37 252.50C296.16 252.50 297.96 252.50 299.75 252.50C301.54 252.50 303.34 252.50 305.13 252.50C306.93 252.50 308.72 252.50 310.52 252.50C312.31 252.50 314.11 252.50 315.90 252.50C317.69 252.50 319.49 252.50 321.28 252.50C323.08 252.50 325.77 252.50 326.67 252.50" stroke="#d2581e" stroke-width="0.9" fill="none" stroke-linejoin="round"/>
<path d="M57.50 238.10L59.40 241.60H55.60Z" fill="#d2581e" stroke="#d2581e" stroke-width="0.4" stroke-linejoin="round"/><path d="M57.50 237.80V242.20" stroke="#d2581e" stroke-width="0.7"/>
<path d="M62.88 238.24L64.78 241.74H60.98Z" fill="#d2581e" stroke="#d2581e" stroke-width="0.4" stroke-linejoin="round"/><path d="M62.88 237.94V242.34" stroke="#d2581e" stroke-width="0.7"/>
<path d="M68.27 238.38L70.17 241.88H66.37Z" fill="#d2581e" stroke="#d2581e" stroke-width="0.4" stroke-linejoin="round"/><path d="M68.27 238.08V242.48" stroke="#d2581e" stroke-width="0.7"/>
<path d="M73.65 238.52L75.55 242.02H71.75Z" fill="#d2581e" stroke="#d2581e" stroke-width="0.4" stroke-linejoin="round"/><path d="M73.65 238.22V242.62" stroke="#d2581e" stroke-width="0.7"/>
<path d="M79.03 238.66L80.93 242.16H77.13Z" fill="#d2581e" stroke="#d2581e" stroke-width="0.4" stroke-linejoin="round"/><path d="M79.03 238.36V242.76" stroke="#d2581e" stroke-width="0.7"/>
<path d="M84.42 238.66L86.32 242.16H82.52Z" fill="#d2581e" stroke="#d2581e" stroke-width="0.4" stroke-linejoin="round"/><path d="M84.42 238.36V242.76" stroke="#d2581e" stroke-width="0.7"/>
<path d="M89.80 238.61L91.70 242.11H87.90Z" fill="#d2581e" stroke="#d2581e" stroke-width="0.4" stroke-linejoin="round"/><path d="M89.80 238.31V242.71" stroke="#d2581e" stroke-width="0.7"/>
<path d="M95.18 238.56L97.08 242.06H93.28Z" fill="#d2581e" stroke="#d2581e" stroke-width="0.4" stroke-linejoin="round"/><path d="M95.18 238.26V242.66" stroke="#d2581e" stroke-width="0.7"/>
<path d="M100.57 238.51L102.47 242.01H98.67Z" fill="#d2581e" stroke="#d2581e" stroke-width="0.4" stroke-linejoin="round"/><path d="M100.57 238.21V242.61" stroke="#d2581e" stroke-width="0.7"/>
<path d="M105.95 238.04L107.85 241.54H104.05Z" fill="#d2581e" stroke="#d2581e" stroke-width="0.4" stroke-linejoin="round"/><path d="M105.95 237.74V242.14" stroke="#d2581e" stroke-width="0.7"/>
<path d="M111.33 237.48L113.23 240.98H109.43Z" fill="#d2581e" stroke="#d2581e" stroke-width="0.4" stroke-linejoin="round"/><path d="M111.33 237.18V241.58" stroke="#d2581e" stroke-width="0.7"/>
<path d="M116.72 236.92L118.62 240.42H114.82Z" fill="#d2581e" stroke="#d2581e" stroke-width="0.4" stroke-linejoin="round"/><path d="M116.72 236.62V241.02" stroke="#d2581e" stroke-width="0.7"/>
<path d="M122.10 236.36L124.00 239.86H120.20Z" fill="#d2581e" stroke="#d2581e" stroke-width="0.4" stroke-linejoin="round"/><path d="M122.10 236.06V240.46" stroke="#d2581e" stroke-width="0.7"/>
<path d="M127.48 235.80L129.38 239.30H125.58Z" fill="#d2581e" stroke="#d2581e" stroke-width="0.4" stroke-linejoin="round"/><path d="M127.48 235.50V239.90" stroke="#d2581e" stroke-width="0.7"/>
<path d="M132.87 235.14L134.77 238.64H130.97Z" fill="#d2581e" stroke="#d2581e" stroke-width="0.4" stroke-linejoin="round"/><path d="M132.87 234.84V239.24" stroke="#d2581e" stroke-width="0.7"/>
<path d="M138.25 234.47L140.15 237.97H136.35Z" fill="#d2581e" stroke="#d2581e" stroke-width="0.4" stroke-linejoin="round"/><path d="M138.25 234.17V238.57" stroke="#d2581e" stroke-width="0.7"/>
<path d="M143.63 233.80L145.53 237.30H141.73Z" fill="#d2581e" stroke="#d2581e" stroke-width="0.4" stroke-linejoin="round"/><path d="M143.63 233.50V237.90" stroke="#d2581e" stroke-width="0.7"/>
<path d="M149.02 233.14L150.92 236.64H147.12Z" fill="#d2581e" stroke="#d2581e" stroke-width="0.4" stroke-linejoin="round"/><path d="M149.02 232.84V237.24" stroke="#d2581e" stroke-width="0.7"/>
<path d="M154.40 232.46L156.30 235.96H152.50Z" fill="#d2581e" stroke="#d2581e" stroke-width="0.4" stroke-linejoin="round"/><path d="M154.40 232.16V236.56" stroke="#d2581e" stroke-width="0.7"/>
<path d="M159.78 231.78L161.68 235.28H157.88Z" fill="#d2581e" stroke="#d2581e" stroke-width="0.4" stroke-linejoin="round"/><path d="M159.78 231.48V235.88" stroke="#d2581e" stroke-width="0.7"/>
<path d="M165.17 231.10L167.07 234.60H163.27Z" fill="#d2581e" stroke="#d2581e" stroke-width="0.4" stroke-linejoin="round"/><path d="M165.17 230.80V235.20" stroke="#d2581e" stroke-width="0.7"/>
<path d="M170.55 229.56L172.45 233.06H168.65Z" fill="#d2581e" stroke="#d2581e" stroke-width="0.4" stroke-linejoin="round"/><path d="M170.55 229.26V233.66" stroke="#d2581e" stroke-width="0.7"/>
<path d="M175.93 228.01L177.83 231.51H174.03Z" fill="#d2581e" stroke="#d2581e" stroke-width="0.4" stroke-linejoin="round"/><path d="M175.93 227.71V232.11" stroke="#d2581e" stroke-width="0.7"/>
<path d="M181.32 225.86L183.22 229.36H179.42Z" fill="#d2581e" stroke="#d2581e" stroke-width="0.4" stroke-linejoin="round"/><path d="M181.32 225.56V229.96" stroke="#d2581e" stroke-width="0.7"/>
<path d="M186.70 223.66L188.60 227.16H184.80Z" fill="#d2581e" stroke="#d2581e" stroke-width="0.4" stroke-linejoin="round"/><path d="M186.70 223.36V227.76" stroke="#d2581e" stroke-width="0.7"/>
<path d="M192.08 220.71L193.98 224.21H190.18Z" fill="#d2581e" stroke="#d2581e" stroke-width="0.4" stroke-linejoin="round"/><path d="M192.08 220.41V224.81" stroke="#d2581e" stroke-width="0.7"/>
<path d="M197.47 216.82L199.37 220.32H195.57Z" fill="#d2581e" stroke="#d2581e" stroke-width="0.4" stroke-linejoin="round"/><path d="M197.47 216.52V220.92" stroke="#d2581e" stroke-width="0.7"/>
<path d="M202.85 213.40L204.75 216.90H200.95Z" fill="#d2581e" stroke="#d2581e" stroke-width="0.4" stroke-linejoin="round"/><path d="M202.85 213.10V217.50" stroke="#d2581e" stroke-width="0.7"/>
<path d="M208.23 207.70L210.13 211.20H206.33Z" fill="#d2581e" stroke="#d2581e" stroke-width="0.4" stroke-linejoin="round"/><path d="M208.23 207.40V211.80" stroke="#d2581e" stroke-width="0.7"/>
<path d="M213.62 201.80L215.52 205.30H211.72Z" fill="#d2581e" stroke="#d2581e" stroke-width="0.4" stroke-linejoin="round"/><path d="M213.62 201.50V205.90" stroke="#d2581e" stroke-width="0.7"/>
<path d="M219.00 194.90L220.90 198.40H217.10Z" fill="#d2581e" stroke="#d2581e" stroke-width="0.4" stroke-linejoin="round"/><path d="M219.00 194.60V199.00" stroke="#d2581e" stroke-width="0.7"/>
<path d="M224.38 184.60L226.28 188.10H222.48Z" fill="#d2581e" stroke="#d2581e" stroke-width="0.4" stroke-linejoin="round"/><path d="M224.38 184.30V188.70" stroke="#d2581e" stroke-width="0.7"/>
<path d="M229.77 171.90L231.67 175.40H227.87Z" fill="#d2581e" stroke="#d2581e" stroke-width="0.4" stroke-linejoin="round"/><path d="M229.77 171.60V176.00" stroke="#d2581e" stroke-width="0.7"/>
<path d="M235.15 157.40L237.05 160.90H233.25Z" fill="#d2581e" stroke="#d2581e" stroke-width="0.4" stroke-linejoin="round"/><path d="M235.15 157.10V161.50" stroke="#d2581e" stroke-width="0.7"/><path d="M233.55 157.30H236.75M233.55 161.70H236.75" stroke="#d2581e" stroke-width="0.7"/>
<path d="M240.53 138.70L242.43 142.20H238.63Z" fill="#d2581e" stroke="#d2581e" stroke-width="0.4" stroke-linejoin="round"/><path d="M240.53 138.40V142.80" stroke="#d2581e" stroke-width="0.7"/><path d="M238.93 138.40H242.13M238.93 143.20H242.13" stroke="#d2581e" stroke-width="0.7"/>
<path d="M245.92 119.10L247.82 122.60H244.02Z" fill="#d2581e" stroke="#d2581e" stroke-width="0.4" stroke-linejoin="round"/><path d="M245.92 118.80V123.20" stroke="#d2581e" stroke-width="0.7"/><path d="M244.32 118.80H247.52M244.32 123.60H247.52" stroke="#d2581e" stroke-width="0.7"/>
<path d="M251.30 99.80L253.20 103.30H249.40Z" fill="#d2581e" stroke="#d2581e" stroke-width="0.4" stroke-linejoin="round"/><path d="M251.30 99.50V103.90" stroke="#d2581e" stroke-width="0.7"/><path d="M249.70 99.40H252.90M249.70 104.40H252.90" stroke="#d2581e" stroke-width="0.7"/>
<path d="M256.68 91.20L258.58 94.70H254.78Z" fill="#d2581e" stroke="#d2581e" stroke-width="0.4" stroke-linejoin="round"/><path d="M256.68 90.90V95.30" stroke="#d2581e" stroke-width="0.7"/><path d="M255.08 90.70H258.28M255.08 95.90H258.28" stroke="#d2581e" stroke-width="0.7"/>
<path d="M262.07 102.80L263.97 106.30H260.17Z" fill="#d2581e" stroke="#d2581e" stroke-width="0.4" stroke-linejoin="round"/><path d="M262.07 102.50V106.90" stroke="#d2581e" stroke-width="0.7"/><path d="M260.47 102.30H263.67M260.47 107.50H263.67" stroke="#d2581e" stroke-width="0.7"/>
<path d="M267.45 145.20L269.35 148.70H265.55Z" fill="#d2581e" stroke="#d2581e" stroke-width="0.4" stroke-linejoin="round"/><path d="M267.45 144.90V149.30" stroke="#d2581e" stroke-width="0.7"/><path d="M265.85 144.70H269.05M265.85 149.90H269.05" stroke="#d2581e" stroke-width="0.7"/>
<path d="M272.83 200.30L274.73 203.80H270.93Z" fill="#d2581e" stroke="#d2581e" stroke-width="0.4" stroke-linejoin="round"/><path d="M272.83 200.00V204.40" stroke="#d2581e" stroke-width="0.7"/>
<path d="M278.22 237.50L280.12 241.00H276.32Z" fill="#d2581e" stroke="#d2581e" stroke-width="0.4" stroke-linejoin="round"/><path d="M278.22 237.20V241.60" stroke="#d2581e" stroke-width="0.7"/>
<path d="M283.60 249.20L285.50 252.70H281.70Z" fill="#d2581e" stroke="#d2581e" stroke-width="0.4" stroke-linejoin="round"/><path d="M283.60 248.90V253.30" stroke="#d2581e" stroke-width="0.7"/>
<path d="M288.98 250.40L290.88 253.90H287.08Z" fill="#d2581e" stroke="#d2581e" stroke-width="0.4" stroke-linejoin="round"/><path d="M288.98 250.10V254.50" stroke="#d2581e" stroke-width="0.7"/>
<path d="M294.37 250.40L296.27 253.90H292.47Z" fill="#d2581e" stroke="#d2581e" stroke-width="0.4" stroke-linejoin="round"/><path d="M294.37 250.10V254.50" stroke="#d2581e" stroke-width="0.7"/>
<path d="M299.75 250.40L301.65 253.90H297.85Z" fill="#d2581e" stroke="#d2581e" stroke-width="0.4" stroke-linejoin="round"/><path d="M299.75 250.10V254.50" stroke="#d2581e" stroke-width="0.7"/>
<path d="M305.13 250.40L307.03 253.90H303.23Z" fill="#d2581e" stroke="#d2581e" stroke-width="0.4" stroke-linejoin="round"/><path d="M305.13 250.10V254.50" stroke="#d2581e" stroke-width="0.7"/>
<path d="M310.52 250.40L312.42 253.90H308.62Z" fill="#d2581e" stroke="#d2581e" stroke-width="0.4" stroke-linejoin="round"/><path d="M310.52 250.10V254.50" stroke="#d2581e" stroke-width="0.7"/>
<path d="M315.90 250.40L317.80 253.90H314.00Z" fill="#d2581e" stroke="#d2581e" stroke-width="0.4" stroke-linejoin="round"/><path d="M315.90 250.10V254.50" stroke="#d2581e" stroke-width="0.7"/>
<path d="M321.28 250.40L323.18 253.90H319.38Z" fill="#d2581e" stroke="#d2581e" stroke-width="0.4" stroke-linejoin="round"/><path d="M321.28 250.10V254.50" stroke="#d2581e" stroke-width="0.7"/>
<path d="M326.67 250.40L328.57 253.90H324.77Z" fill="#d2581e" stroke="#d2581e" stroke-width="0.4" stroke-linejoin="round"/><path d="M326.67 250.10V254.50" stroke="#d2581e" stroke-width="0.7"/>
<path d="M57.50 239.30C58.40 239.32 61.09 239.39 62.88 239.44C64.68 239.49 66.47 239.53 68.27 239.58C70.06 239.63 71.86 239.67 73.65 239.72C75.44 239.77 77.24 239.84 79.03 239.86C80.83 239.89 82.62 239.87 84.42 239.86C86.21 239.85 88.01 239.83 89.80 239.81C91.59 239.79 93.39 239.78 95.18 239.76C96.98 239.74 98.77 239.80 100.57 239.71C102.36 239.62 104.16 239.39 105.95 239.21C107.74 239.03 109.54 238.83 111.33 238.62C113.13 238.40 114.92 238.15 116.72 237.92C118.51 237.68 120.31 237.44 122.10 237.21C123.89 236.97 125.69 236.73 127.48 236.50C129.28 236.27 131.07 236.06 132.87 235.84C134.66 235.62 136.46 235.40 138.25 235.18C140.04 234.96 141.84 234.73 143.63 234.51C145.43 234.28 147.22 234.05 149.02 233.84C150.81 233.63 152.61 233.49 154.40 233.22C156.19 232.96 157.99 232.63 159.78 232.26C161.58 231.89 163.37 231.50 165.17 231.01C166.96 230.52 168.76 229.91 170.55 229.31C172.34 228.71 174.14 228.14 175.93 227.43C177.73 226.71 179.52 225.87 181.32 225.02C183.11 224.17 184.91 223.28 186.70 222.30C188.49 221.32 190.29 220.27 192.08 219.15C193.88 218.02 195.67 216.90 197.47 215.56C199.26 214.21 201.06 212.77 202.85 211.09C204.64 209.41 206.44 207.91 208.23 205.48C210.03 203.05 211.82 199.55 213.62 196.50C215.41 193.45 217.21 190.85 219.00 187.20C220.79 183.55 222.59 179.32 224.38 174.60C226.18 169.88 227.97 164.95 229.77 158.90C231.56 152.85 233.36 145.63 235.15 138.30C236.94 130.97 238.74 122.57 240.53 114.90C242.33 107.23 244.12 97.57 245.92 92.30C247.71 87.03 249.51 81.20 251.30 83.30C253.09 85.40 254.89 92.20 256.68 104.90C258.48 117.60 260.27 140.32 262.07 159.50C263.86 178.68 265.66 205.35 267.45 220.00C269.24 234.65 271.04 242.13 272.83 247.40C274.63 252.50 276.42 250.75 278.22 251.60C280.01 252.45 281.81 252.35 283.60 252.50C285.39 252.50 287.19 252.50 288.98 252.50C290.78 252.50 292.57 252.50 294.37 252.50C296.16 252.50 297.96 252.50 299.75 252.50C301.54 252.50 303.34 252.50 305.13 252.50C306.93 252.50 308.72 252.50 310.52 252.50C312.31 252.50 314.11 252.50 315.90 252.50C317.69 252.50 319.49 252.50 321.28 252.50C323.08 252.50 325.77 252.50 326.67 252.50" stroke="#000000" stroke-width="0.9" fill="none" stroke-linejoin="round"/>
<path d="M55.80 239.30H59.20" stroke="#000000" stroke-width="1.0"/><circle cx="57.50" cy="239.30" r="1.75" stroke="#000000" stroke-width="1.0" fill="#000000" fill-opacity="0.45"/>
<path d="M61.18 239.44H64.58" stroke="#000000" stroke-width="1.0"/><circle cx="62.88" cy="239.44" r="1.75" stroke="#000000" stroke-width="1.0" fill="#000000" fill-opacity="0.45"/>
<path d="M66.57 239.58H69.97" stroke="#000000" stroke-width="1.0"/><circle cx="68.27" cy="239.58" r="1.75" stroke="#000000" stroke-width="1.0" fill="#000000" fill-opacity="0.45"/>
<path d="M71.95 239.72H75.35" stroke="#000000" stroke-width="1.0"/><circle cx="73.65" cy="239.72" r="1.75" stroke="#000000" stroke-width="1.0" fill="#000000" fill-opacity="0.45"/>
<path d="M77.33 239.86H80.73" stroke="#000000" stroke-width="1.0"/><circle cx="79.03" cy="239.86" r="1.75" stroke="#000000" stroke-width="1.0" fill="#000000" fill-opacity="0.45"/>
<path d="M82.72 239.86H86.12" stroke="#000000" stroke-width="1.0"/><circle cx="84.42" cy="239.86" r="1.75" stroke="#000000" stroke-width="1.0" fill="#000000" fill-opacity="0.45"/>
<path d="M88.10 239.81H91.50" stroke="#000000" stroke-width="1.0"/><circle cx="89.80" cy="239.81" r="1.75" stroke="#000000" stroke-width="1.0" fill="#000000" fill-opacity="0.45"/>
<path d="M93.48 239.76H96.88" stroke="#000000" stroke-width="1.0"/><circle cx="95.18" cy="239.76" r="1.75" stroke="#000000" stroke-width="1.0" fill="#000000" fill-opacity="0.45"/>
<path d="M98.87 239.71H102.27" stroke="#000000" stroke-width="1.0"/><circle cx="100.57" cy="239.71" r="1.75" stroke="#000000" stroke-width="1.0" fill="#000000" fill-opacity="0.45"/>
<path d="M104.25 239.21H107.65" stroke="#000000" stroke-width="1.0"/><circle cx="105.95" cy="239.21" r="1.75" stroke="#000000" stroke-width="1.0" fill="#000000" fill-opacity="0.45"/>
<path d="M109.63 238.62H113.03" stroke="#000000" stroke-width="1.0"/><circle cx="111.33" cy="238.62" r="1.75" stroke="#000000" stroke-width="1.0" fill="#000000" fill-opacity="0.45"/>
<path d="M115.02 237.92H118.42" stroke="#000000" stroke-width="1.0"/><circle cx="116.72" cy="237.92" r="1.75" stroke="#000000" stroke-width="1.0" fill="#000000" fill-opacity="0.45"/>
<path d="M120.40 237.21H123.80" stroke="#000000" stroke-width="1.0"/><circle cx="122.10" cy="237.21" r="1.75" stroke="#000000" stroke-width="1.0" fill="#000000" fill-opacity="0.45"/>
<path d="M125.78 236.50H129.18" stroke="#000000" stroke-width="1.0"/><circle cx="127.48" cy="236.50" r="1.75" stroke="#000000" stroke-width="1.0" fill="#000000" fill-opacity="0.45"/>
<path d="M131.17 235.84H134.57" stroke="#000000" stroke-width="1.0"/><circle cx="132.87" cy="235.84" r="1.75" stroke="#000000" stroke-width="1.0" fill="#000000" fill-opacity="0.45"/>
<path d="M136.55 235.18H139.95" stroke="#000000" stroke-width="1.0"/><circle cx="138.25" cy="235.18" r="1.75" stroke="#000000" stroke-width="1.0" fill="#000000" fill-opacity="0.45"/>
<path d="M141.93 234.51H145.33" stroke="#000000" stroke-width="1.0"/><circle cx="143.63" cy="234.51" r="1.75" stroke="#000000" stroke-width="1.0" fill="#000000" fill-opacity="0.45"/>
<path d="M147.32 233.84H150.72" stroke="#000000" stroke-width="1.0"/><circle cx="149.02" cy="233.84" r="1.75" stroke="#000000" stroke-width="1.0" fill="#000000" fill-opacity="0.45"/>
<path d="M152.70 233.22H156.10" stroke="#000000" stroke-width="1.0"/><circle cx="154.40" cy="233.22" r="1.75" stroke="#000000" stroke-width="1.0" fill="#000000" fill-opacity="0.45"/>
<path d="M158.08 232.26H161.48" stroke="#000000" stroke-width="1.0"/><circle cx="159.78" cy="232.26" r="1.75" stroke="#000000" stroke-width="1.0" fill="#000000" fill-opacity="0.45"/>
<path d="M163.47 231.01H166.87" stroke="#000000" stroke-width="1.0"/><circle cx="165.17" cy="231.01" r="1.75" stroke="#000000" stroke-width="1.0" fill="#000000" fill-opacity="0.45"/>
<path d="M168.85 229.31H172.25" stroke="#000000" stroke-width="1.0"/><circle cx="170.55" cy="229.31" r="1.75" stroke="#000000" stroke-width="1.0" fill="#000000" fill-opacity="0.45"/>
<path d="M174.23 227.43H177.63" stroke="#000000" stroke-width="1.0"/><circle cx="175.93" cy="227.43" r="1.75" stroke="#000000" stroke-width="1.0" fill="#000000" fill-opacity="0.45"/>
<path d="M179.62 225.02H183.02" stroke="#000000" stroke-width="1.0"/><circle cx="181.32" cy="225.02" r="1.75" stroke="#000000" stroke-width="1.0" fill="#000000" fill-opacity="0.45"/>
<path d="M185.00 222.30H188.40" stroke="#000000" stroke-width="1.0"/><circle cx="186.70" cy="222.30" r="1.75" stroke="#000000" stroke-width="1.0" fill="#000000" fill-opacity="0.45"/>
<path d="M190.38 219.15H193.78" stroke="#000000" stroke-width="1.0"/><circle cx="192.08" cy="219.15" r="1.75" stroke="#000000" stroke-width="1.0" fill="#000000" fill-opacity="0.45"/>
<path d="M195.77 215.56H199.17" stroke="#000000" stroke-width="1.0"/><circle cx="197.47" cy="215.56" r="1.75" stroke="#000000" stroke-width="1.0" fill="#000000" fill-opacity="0.45"/>
<path d="M202.85 208.49V209.19M202.85 212.99V213.69" stroke="#000000" stroke-width="0.8"/><circle cx="202.85" cy="211.09" r="1.75" stroke="#000000" stroke-width="1.0" fill="#000000" fill-opacity="0"/>
<path d="M208.23 202.88V203.58M208.23 207.38V208.08" stroke="#000000" stroke-width="0.8"/><circle cx="208.23" cy="205.48" r="1.75" stroke="#000000" stroke-width="1.0" fill="#000000" fill-opacity="0"/>
<path d="M213.62 193.90V194.60M213.62 198.40V199.10" stroke="#000000" stroke-width="0.8"/><circle cx="213.62" cy="196.50" r="1.75" stroke="#000000" stroke-width="1.0" fill="#000000" fill-opacity="0"/>
<path d="M219.00 184.60V185.30M219.00 189.10V189.80" stroke="#000000" stroke-width="0.8"/><circle cx="219.00" cy="187.20" r="1.75" stroke="#000000" stroke-width="1.0" fill="#000000" fill-opacity="0"/>
<path d="M224.38 172.00V172.70M224.38 176.50V177.20" stroke="#000000" stroke-width="0.8"/><circle cx="224.38" cy="174.60" r="1.75" stroke="#000000" stroke-width="1.0" fill="#000000" fill-opacity="0"/>
<path d="M229.77 156.30V157.00M229.77 160.80V161.50" stroke="#000000" stroke-width="0.8"/><circle cx="229.77" cy="158.90" r="1.75" stroke="#000000" stroke-width="1.0" fill="#000000" fill-opacity="0"/>
<path d="M235.15 135.70V136.40M235.15 140.20V140.90" stroke="#000000" stroke-width="0.8"/><circle cx="235.15" cy="138.30" r="1.75" stroke="#000000" stroke-width="1.0" fill="#000000" fill-opacity="0"/>
<path d="M240.53 112.30V117.50M238.93 112.30H242.13M238.93 117.50H242.13" stroke="#000000" stroke-width="0.7"/><circle cx="240.53" cy="114.90" r="1.75" stroke="#000000" stroke-width="1.0" fill="#000000" fill-opacity="0"/>
<path d="M245.92 89.50V95.10M244.32 89.50H247.52M244.32 95.10H247.52" stroke="#000000" stroke-width="0.7"/><circle cx="245.92" cy="92.30" r="1.75" stroke="#000000" stroke-width="1.0" fill="#000000" fill-opacity="0"/>
<path d="M251.30 80.30V86.30M249.70 80.30H252.90M249.70 86.30H252.90" stroke="#000000" stroke-width="0.7"/><circle cx="251.30" cy="83.30" r="1.75" stroke="#000000" stroke-width="1.0" fill="#000000" fill-opacity="0"/>
<path d="M256.68 100.90V108.90M255.08 100.90H258.28M255.08 108.90H258.28" stroke="#000000" stroke-width="0.7"/><circle cx="256.68" cy="104.90" r="1.75" stroke="#000000" stroke-width="1.0" fill="#000000" fill-opacity="0"/>
<path d="M262.07 155.70V163.30M260.47 155.70H263.67M260.47 163.30H263.67" stroke="#000000" stroke-width="0.7"/><circle cx="262.07" cy="159.50" r="1.75" stroke="#000000" stroke-width="1.0" fill="#000000" fill-opacity="0"/>
<path d="M267.45 217.20V222.80M265.85 217.20H269.05M265.85 222.80H269.05" stroke="#000000" stroke-width="0.7"/><circle cx="267.45" cy="220.00" r="1.75" stroke="#000000" stroke-width="1.0" fill="#000000" fill-opacity="0"/>
<path d="M272.83 244.80V245.50M272.83 249.30V250.00" stroke="#000000" stroke-width="0.8"/><circle cx="272.83" cy="247.40" r="1.75" stroke="#000000" stroke-width="1.0" fill="#000000" fill-opacity="0"/>
<path d="M278.22 249.00V249.70M278.22 253.50V254.20" stroke="#000000" stroke-width="0.8"/><circle cx="278.22" cy="251.60" r="1.75" stroke="#000000" stroke-width="1.0" fill="#000000" fill-opacity="0"/>
<path d="M283.60 249.90V250.60M283.60 254.40V255.10" stroke="#000000" stroke-width="0.8"/><circle cx="283.60" cy="252.50" r="1.75" stroke="#000000" stroke-width="1.0" fill="#000000" fill-opacity="0"/>
<path d="M288.98 249.90V250.60M288.98 254.40V255.10" stroke="#000000" stroke-width="0.8"/><circle cx="288.98" cy="252.50" r="1.75" stroke="#000000" stroke-width="1.0" fill="#000000" fill-opacity="0"/>
<path d="M294.37 249.90V250.60M294.37 254.40V255.10" stroke="#000000" stroke-width="0.8"/><circle cx="294.37" cy="252.50" r="1.75" stroke="#000000" stroke-width="1.0" fill="#000000" fill-opacity="0"/>
<path d="M299.75 249.90V250.60M299.75 254.40V255.10" stroke="#000000" stroke-width="0.8"/><circle cx="299.75" cy="252.50" r="1.75" stroke="#000000" stroke-width="1.0" fill="#000000" fill-opacity="0"/>
<path d="M305.13 249.90V250.60M305.13 254.40V255.10" stroke="#000000" stroke-width="0.8"/><circle cx="305.13" cy="252.50" r="1.75" stroke="#000000" stroke-width="1.0" fill="#000000" fill-opacity="0"/>
<path d="M310.52 249.90V250.60M310.52 254.40V255.10" stroke="#000000" stroke-width="0.8"/><circle cx="310.52" cy="252.50" r="1.75" stroke="#000000" stroke-width="1.0" fill="#000000" fill-opacity="0"/>
<path d="M315.90 249.90V250.60M315.90 254.40V255.10" stroke="#000000" stroke-width="0.8"/><circle cx="315.90" cy="252.50" r="1.75" stroke="#000000" stroke-width="1.0" fill="#000000" fill-opacity="0"/>
<path d="M321.28 249.90V250.60M321.28 254.40V255.10" stroke="#000000" stroke-width="0.8"/><circle cx="321.28" cy="252.50" r="1.75" stroke="#000000" stroke-width="1.0" fill="#000000" fill-opacity="0"/>
<path d="M326.67 249.90V250.60M326.67 254.40V255.10" stroke="#000000" stroke-width="0.8"/><circle cx="326.67" cy="252.50" r="1.75" stroke="#000000" stroke-width="1.0" fill="#000000" fill-opacity="0"/>
</g>
<rect x="57.5" y="17.5" width="323.0" height="235.0" fill="none" stroke="#000" stroke-width="0.85"/>
<path d="M111.5 252.5V249.0M111.5 17.5V21.0M165.5 252.5V249.0M165.5 17.5V21.0M219.5 252.5V249.0M219.5 17.5V21.0M272.5 252.5V249.0M272.5 17.5V21.0M326.5 252.5V249.0M326.5 17.5V21.0M57.5 217.5H61.0M380.5 217.5H377.0M57.5 183.5H61.0M380.5 183.5H377.0M57.5 148.5H61.0M380.5 148.5H377.0M57.5 114.5H61.0M380.5 114.5H377.0M57.5 79.5H61.0M380.5 79.5H377.0M57.5 45.5H61.0M380.5 45.5H377.0" stroke="#000" stroke-width="0.85" fill="none"/>
<path d="M74.5 28.4H113.8M74.5 26.799999999999997V30.0M113.8 26.799999999999997V30.0" stroke="#ff0000" stroke-width="0.9" fill="none"/>
<path d="M92.20 28.40H96.20M94.20 26.40V30.40" stroke="#ff0000" stroke-width="1.0" fill="none"/><rect x="93.30" y="27.50" width="1.8" height="1.8" fill="#ff0000" transform="rotate(45 94.20 28.40)"/>
<path d="M74.5 43.3H113.8M74.5 41.699999999999996V44.9M113.8 41.699999999999996V44.9" stroke="#157515" stroke-width="0.9" fill="none"/>
<rect x="92.45" y="41.55" width="3.5" height="3.5" stroke="#157515" stroke-width="0.95" fill="#157515" fill-opacity="0.25"/><path d="M92.45 43.30H95.95" stroke="#157515" stroke-width="0.8" stroke-opacity="0.8"/>
<path d="M74.5 58.0H113.8M74.5 56.4V59.6M113.8 56.4V59.6" stroke="#0000ff" stroke-width="0.9" fill="none"/>
<rect x="92.80" y="56.60" width="2.8" height="2.8" fill="#0000ff"/><path d="M92.30 56.10L96.10 59.90M92.30 59.90L96.10 56.10M94.20 55.80V60.20" stroke="#0000ff" stroke-width="0.8" fill="none"/>
<path d="M74.5 72.5H113.8M74.5 70.9V74.1M113.8 70.9V74.1" stroke="#d2581e" stroke-width="0.9" fill="none"/>
<path d="M94.20 70.40L96.10 73.90H92.30Z" fill="#d2581e" stroke="#d2581e" stroke-width="0.4" stroke-linejoin="round"/><path d="M94.20 70.10V74.50" stroke="#d2581e" stroke-width="0.7"/>
<path d="M74.5 87.5H113.8M74.5 85.9V89.1M113.8 85.9V89.1" stroke="#000000" stroke-width="0.9" fill="none"/>
<path d="M94.20 84.90V85.60M94.20 89.40V90.10" stroke="#000000" stroke-width="0.8"/><circle cx="94.20" cy="87.50" r="1.75" stroke="#000000" stroke-width="1.0" fill="#000000" fill-opacity="0"/>
</svg>
<div class="t yl" style="top:211.6px">0.5</div>
<div class="t yl" style="top:177.1px">1.0</div>
<div class="t yl" style="top:142.5px">1.5</div>
<div class="t yl" style="top:108.0px">2.0</div>
<div class="t yl" style="top:73.4px">2.5</div>
<div class="t yl" style="top:38.8px">3.0</div>
<div class="t xl" style="left:59.3px;top:257px">0</div>
<div class="t xl" style="left:113.1px;top:257px">0.2</div>
<div class="t xl" style="left:167.0px;top:257px">0.4</div>
<div class="t xl" style="left:220.8px;top:257px">0.6</div>
<div class="t xl" style="left:274.6px;top:257px">0.8</div>
<div class="t xl" style="left:328.5px;top:257px">1</div>
<div class="t xl" style="left:382.3px;top:257px">1.2</div>
<div class="t" style="left:122.5px;top:22.4px;word-spacing:-0.5px"><i>N</i> = 512</div>
<div class="t" style="left:122.5px;top:37.3px;word-spacing:-0.5px"><i>N</i> = 1728</div>
<div class="t" style="left:122.5px;top:52.0px;word-spacing:-0.5px"><i>N</i> = 4096</div>
<div class="t" style="left:122.5px;top:66.5px;word-spacing:-0.5px"><i>N</i> = 13824</div>
<div class="t" style="left:122.5px;top:81.5px;word-spacing:-0.5px"><i>N</i> = 32768</div>
<div class="t" style="left:215px;top:269px"><i>q</i></div>
<div class="t" style="left:17px;top:135.5px;transform:translate(-50%,-50%) rotate(-90deg)"><i>p</i>(<i>q</i>)</div>
</body></html>
